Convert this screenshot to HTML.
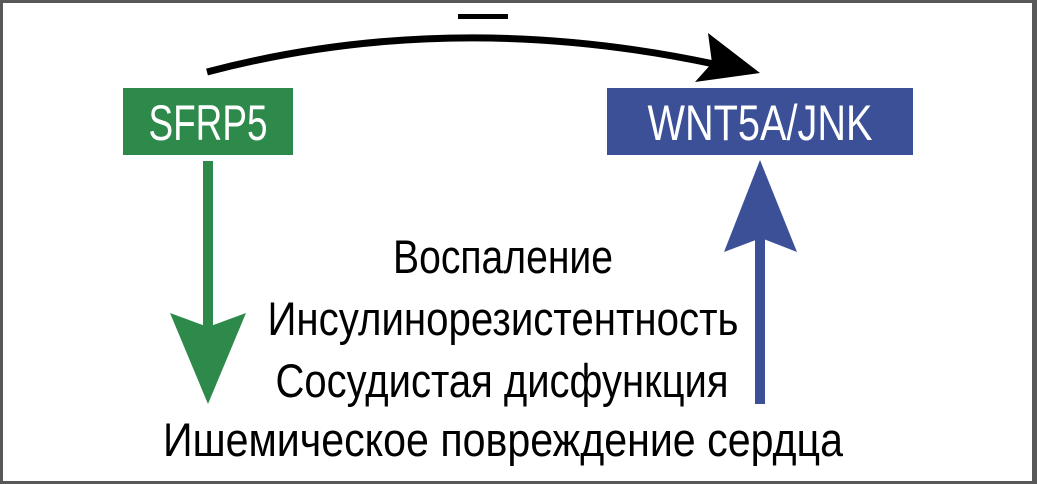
<!DOCTYPE html>
<html><head><meta charset="utf-8"><style>
html,body{margin:0;padding:0;background:#fff}
svg{display:block}
text{font-family:"Liberation Sans Narrow","Liberation Sans","DejaVu Sans Condensed",sans-serif}
</style></head><body>
<svg width="1037" height="484" viewBox="0 0 1037 484" xmlns="http://www.w3.org/2000/svg">
<rect x="0" y="0" width="1037" height="484" fill="#585858"/>
<rect x="3" y="3" width="1029" height="478" fill="#fff"/>
<rect x="123" y="88" width="170" height="67" fill="#2e8a4b"/>
<text x="208" y="140" font-size="50" fill="#fff" text-anchor="middle" textLength="119" lengthAdjust="spacingAndGlyphs">SFRP5</text>
<rect x="607" y="88" width="306" height="67" fill="#3b5097"/>
<text x="760" y="140" font-size="50" fill="#fff" text-anchor="middle" textLength="225" lengthAdjust="spacingAndGlyphs">WNT5A/JNK</text>
<path d="M207,72 Q450,8 714,64" fill="none" stroke="#000" stroke-width="7"/>
<polygon points="760,73 708,33 712,63 695,82" fill="#000"/>
<rect x="458" y="14" width="50" height="5" fill="#000"/>
<rect x="203" y="161" width="10" height="170" fill="#2e8a4b"/>
<polygon points="170,313 208,327 246,313 208,404" fill="#2e8a4b"/>
<rect x="755" y="232" width="10" height="172" fill="#3b5097"/>
<polygon points="760,160 797,252 761,238 724,252" fill="#3b5097"/>
<g font-size="47" fill="#000" text-anchor="middle">
<text x="503" y="273" textLength="220" lengthAdjust="spacingAndGlyphs">Воспаление</text>
<text x="503" y="335" textLength="471" lengthAdjust="spacingAndGlyphs">Инсулинорезистентность</text>
<text x="502" y="397" textLength="453" lengthAdjust="spacingAndGlyphs">Сосудистая дисфункция</text>
<text x="503" y="456" textLength="680" lengthAdjust="spacingAndGlyphs">Ишемическое повреждение сердца</text>
</g>
</svg>
</body></html>
